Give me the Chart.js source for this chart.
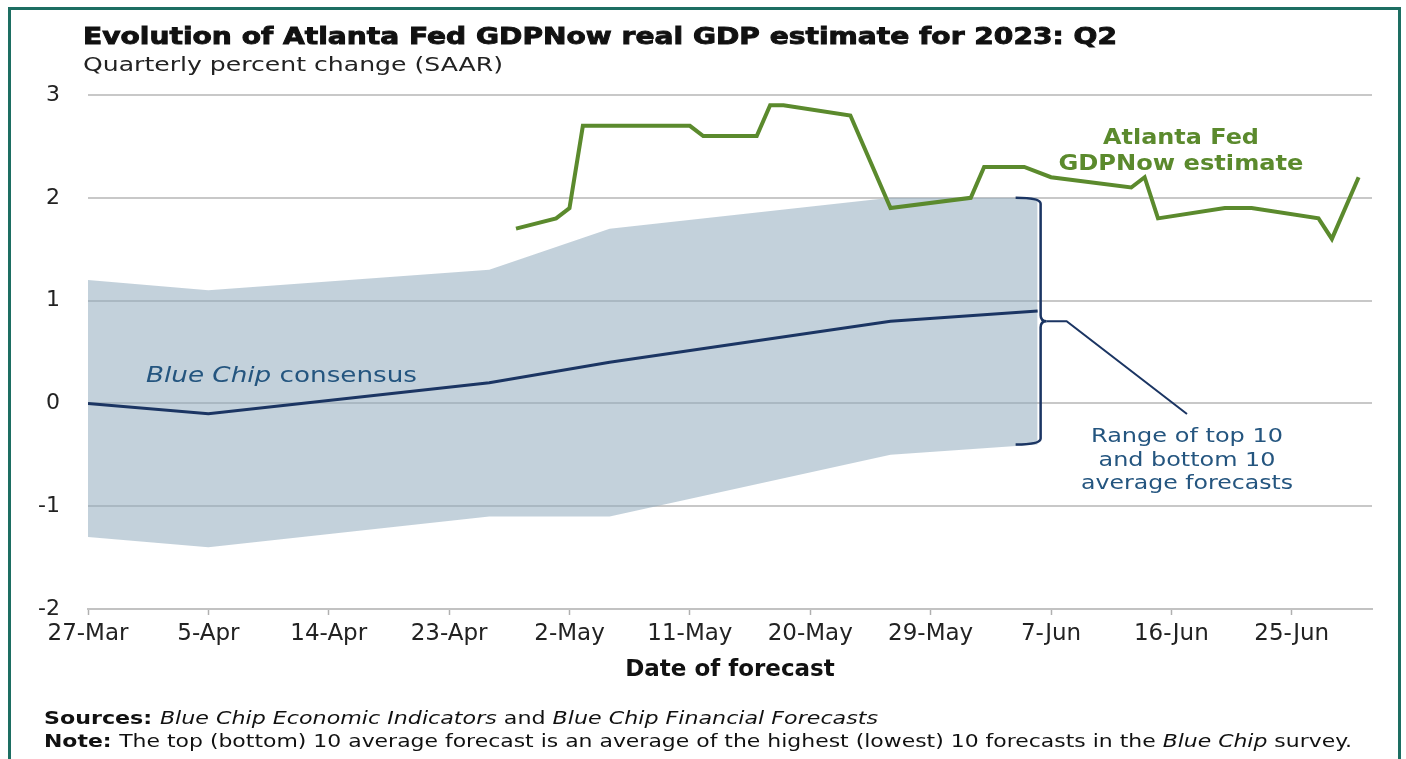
<!DOCTYPE html>
<html>
<head>
<meta charset="utf-8">
<title>Atlanta Fed GDPNow 2023: Q2</title>
<script src="https://cdn.jsdelivr.net/npm/chart.js@4.4.1/dist/chart.umd.min.js"></script>
<style>
  html, body { margin: 0; padding: 0; background: #fff; }
  #wrap { width: 1406px; height: 759px; }
</style>
</head>
<body>
<div id="wrap"><canvas id="gdp_chart" width="1406" height="759"></canvas></div>
<script>
// dates are days of forecast, counted from the first day on the axis
const startDate = "2023-03-27";
const endDate = "2023-07-01";

const tickDates = ["2023-03-27", "2023-04-05", "2023-04-14", "2023-04-23", "2023-05-02", "2023-05-11",
  "2023-05-20", "2023-05-29", "2023-06-07", "2023-06-16", "2023-06-25"];
const tickLabels = ["27-Mar", "5-Apr", "14-Apr", "23-Apr", "2-May", "11-May",
  "20-May", "29-May", "7-Jun", "16-Jun", "25-Jun"];
const yTicks = [-2, -1, 0, 1, 2, 3];

// Atlanta Fed GDPNow estimate
const gdpNowDates = ["2023-04-28", "2023-05-01", "2023-05-02", "2023-05-03", "2023-05-11", "2023-05-12",
  "2023-05-16", "2023-05-17", "2023-05-18", "2023-05-23", "2023-05-26", "2023-06-01", "2023-06-02",
  "2023-06-05", "2023-06-07", "2023-06-13", "2023-06-14", "2023-06-15", "2023-06-20", "2023-06-22",
  "2023-06-27", "2023-06-28", "2023-06-30"];
const gdpNowValues = [1.7, 1.8, 1.9, 2.7, 2.7, 2.6,
  2.6, 2.9, 2.9, 2.8, 1.9, 2.0, 2.3,
  2.3, 2.2, 2.1, 2.2, 1.8, 1.9, 1.9,
  1.8, 1.6, 2.2];

// Blue Chip consensus and top / bottom 10 averages
const blueChipDates = ["2023-03-27", "2023-04-05", "2023-04-26", "2023-05-05", "2023-05-26", "2023-06-06"];
const blueChipConsensus = [0.0, -0.1, 0.2, 0.4, 0.8, 0.9];
const blueChipTop10 = [1.2, 1.1, 1.3, 1.7, 2.0, 2.0];
const blueChipBottom10 = [-1.3, -1.4, -1.1, -1.1, -0.5, -0.4];

const FONT = "'DejaVu Sans', sans-serif";
const GREEN = "#5b8a2d";
const NAVY = "#1b3563";
const TEXT_BLUE = "#24557f";

function dayOf(d) {
  return Math.round((Date.parse(d) - Date.parse(startDate)) / 86400000);
}

function points(dates, values) {
  return dates.map((d, i) => ({ x: dayOf(d), y: values[i] }));
}

const tickDays = tickDates.map(dayOf);

// free text on the picture; w is the width it spans in the reference
const texts = [
  { segs: [{ t: "Evolution of Atlanta Fed GDPNow real GDP estimate for 2023: Q2", b: true }],
    x: 83, y: 44, size: 23, w: 1034, color: "#111", heavy: 0.9 },
  { segs: [{ t: "Quarterly percent change (SAAR)" }], x: 83, y: 71, size: 20, w: 420, color: "#222" },
  { segs: [{ t: "Atlanta Fed", b: true }], x: 1181, y: 144, size: 20.5, w: 156, align: "center", color: GREEN },
  { segs: [{ t: "GDPNow estimate", b: true }], x: 1181, y: 170, size: 20.5, w: 245, align: "center", color: GREEN },
  { segs: [{ t: "Blue Chip", i: true }, { t: " consensus" }], x: 146, y: 382, size: 21, w: 271, color: TEXT_BLUE },
  { segs: [{ t: "Range of top 10" }], x: 1187, y: 442, size: 20, w: 192, align: "center", color: TEXT_BLUE },
  { segs: [{ t: "and bottom 10" }], x: 1187, y: 466, size: 20, w: 177, align: "center", color: TEXT_BLUE },
  { segs: [{ t: "average forecasts" }], x: 1187, y: 489, size: 20, w: 212, align: "center", color: TEXT_BLUE },
  { segs: [{ t: "Sources: ", b: true }, { t: "Blue Chip Economic Indicators", i: true }, { t: " and " },
    { t: "Blue Chip Financial Forecasts", i: true }], x: 44, y: 724, size: 18.5, w: 834, color: "#111" },
  { segs: [{ t: "Note: ", b: true },
    { t: "The top (bottom) 10 average forecast is an average of the highest (lowest) 10 forecasts in the " },
    { t: "Blue Chip", i: true }, { t: " survey." }], x: 44, y: 747, size: 18.5, w: 1308, color: "#111" },
];

function fontFor(s, size) {
  return `${s.i ? "italic " : ""}${s.b ? "bold " : ""}${size}px ${FONT}`;
}

function segWidth(ctx, segs, size) {
  let w = 0;
  segs.forEach(s => { ctx.font = fontFor(s, size); w += ctx.measureText(s.t).width; });
  return w;
}

function drawText(ctx, t) {
  const natural = segWidth(ctx, t.segs, t.size);
  const sx = t.w / natural;
  const left = t.align === "center" ? t.x - t.w / 2 : t.x;
  ctx.save();
  ctx.translate(left, t.y);
  ctx.scale(sx, 1);
  ctx.fillStyle = t.color;
  ctx.strokeStyle = t.color;
  ctx.textBaseline = "alphabetic";
  ctx.textAlign = "left";
  let cx = 0;
  t.segs.forEach(s => {
    ctx.font = fontFor(s, t.size);
    ctx.fillText(s.t, cx, 0);
    if (t.heavy) {
      ctx.lineWidth = t.heavy;
      ctx.strokeText(s.t, cx, 0);
    }
    cx += ctx.measureText(s.t).width;
  });
  ctx.restore();
}

const decorations = {
  id: "decorations",
  beforeDraw(chart) {
    const { ctx, width, height } = chart;
    ctx.save();
    ctx.fillStyle = "#fff";
    ctx.fillRect(0, 0, width, height);
    ctx.restore();
  },
  afterDraw(chart) {
    const { ctx } = chart;
    const xs = chart.scales.x, ys = chart.scales.y;
    const last = blueChipDates.length - 1;
    const x0 = xs.getPixelForValue(dayOf(blueChipDates[last])) + 3;
    const yTop = ys.getPixelForValue(blueChipTop10[last]);
    const yBot = ys.getPixelForValue(blueChipBottom10[last]);
    const yMid = (yTop + yBot) / 2;

    ctx.save();
    // brace round the last range
    ctx.strokeStyle = NAVY;
    ctx.lineWidth = 2.5;
    ctx.beginPath();
    ctx.moveTo(x0 - 25, yTop);
    ctx.quadraticCurveTo(x0, yTop, x0, yTop + 6);
    ctx.lineTo(x0, yMid - 6);
    ctx.quadraticCurveTo(x0, yMid, x0 + 6, yMid);
    ctx.quadraticCurveTo(x0, yMid, x0, yMid + 6);
    ctx.lineTo(x0, yBot - 6);
    ctx.quadraticCurveTo(x0, yBot, x0 - 25, yBot);
    ctx.stroke();

    // leader to the range label
    ctx.lineWidth = 2;
    ctx.beginPath();
    ctx.moveTo(x0 + 6, yMid);
    ctx.lineTo(x0 + 26, yMid);
    ctx.lineTo(1187, 414);
    ctx.stroke();
    ctx.restore();

    texts.forEach(t => drawText(ctx, t));

    // frame
    ctx.save();
    ctx.strokeStyle = "#1d6e62";
    ctx.lineWidth = 3;
    ctx.strokeRect(9.5, 8.5, 1390, 780);
    ctx.restore();
  }
};

const bandFill = "rgba(146,171,190,0.55)";

new Chart(document.getElementById("gdp_chart"), {
  type: "line",
  data: {
    datasets: [
      {
        label: "GDPNow",
        data: points(gdpNowDates, gdpNowValues),
        borderColor: GREEN,
        borderWidth: 4,
        pointRadius: 0,
        tension: 0,
        fill: false,
        order: 0,
      },
      {
        label: "Blue Chip consensus",
        data: points(blueChipDates, blueChipConsensus),
        borderColor: NAVY,
        borderWidth: 3,
        pointRadius: 0,
        tension: 0,
        fill: false,
        order: 1,
      },
      {
        label: "Top 10 average",
        data: points(blueChipDates, blueChipTop10),
        borderWidth: 0,
        borderColor: "rgba(0,0,0,0)",
        backgroundColor: bandFill,
        pointRadius: 0,
        tension: 0,
        fill: "+1",
        order: 2,
      },
      {
        label: "Bottom 10 average",
        data: points(blueChipDates, blueChipBottom10),
        borderWidth: 0,
        borderColor: "rgba(0,0,0,0)",
        pointRadius: 0,
        tension: 0,
        fill: false,
        order: 3,
      },
    ]
  },
  options: {
    responsive: false,
    animation: false,
    devicePixelRatio: 1,
    layout: { padding: { top: 95, right: 34, bottom: 72, left: 0 } },
    plugins: {
      legend: { display: false },
      tooltip: { enabled: false },
    },
    scales: {
      x: {
        type: "linear",
        min: 0,
        max: dayOf(endDate),
        afterBuildTicks: s => { s.ticks = tickDays.map(v => ({ value: v })); },
        afterFit: s => { s.height = 78; },
        ticks: {
          autoSkip: false,
          maxRotation: 0,
          padding: 5,
          color: "#222",
          font: { family: FONT, size: 23 },
          callback: v => tickLabels[tickDays.indexOf(v)] ?? "",
        },
        grid: {
          drawOnChartArea: false,
          drawTicks: true,
          tickLength: 6,
          tickColor: "#b0b0b0",
          tickWidth: 1.5,
        },
        border: { display: true, color: "#c2c2c2", width: 2 },
        title: {
          display: true,
          text: "Date of forecast",
          color: "#111",
          font: { family: FONT, size: 23, weight: "bold" },
          padding: { top: 0, bottom: 3 },
        },
      },
      y: {
        min: -2,
        max: 3,
        afterBuildTicks: s => { s.ticks = yTicks.map(v => ({ value: v })); },
        afterFit: s => { s.width = 88; },
        ticks: {
          padding: 28,
          color: "#222",
          font: { family: FONT, size: 22 },
          callback: v => String(v),
        },
        grid: {
          color: "#c8c8c8",
          lineWidth: 2,
          drawTicks: false,
        },
        border: { display: false },
      },
    },
  },
  plugins: [decorations],
});
</script>
</body>
</html>
